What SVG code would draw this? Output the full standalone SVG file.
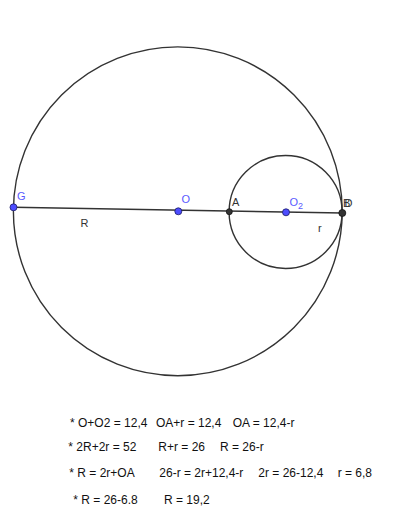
<svg xmlns="http://www.w3.org/2000/svg" width="400" height="523" viewBox="0 0 400 523">
<style>
.c{fill:none;stroke:#333;stroke-width:1.4}
.bp{fill:#4d4dff;stroke:#1a1a66;stroke-width:0.8}
.gp{fill:#333;stroke:#111;stroke-width:0.8}
.bl{font-family:"Liberation Sans",Arial,sans-serif;font-size:11px;fill:#5a5aff}
.kl{font-family:"Liberation Sans",Arial,sans-serif;font-size:11px;fill:#333}
.eq{font-family:"Liberation Sans",Arial,sans-serif;font-size:12px;fill:#111}
</style>
<rect width="400" height="523" fill="#fff"/>
<g id="connectors">
<circle id="bigCircle" class="c" cx="177.8" cy="211.3" r="164.4"/>
<circle id="smallCircle" class="c" cx="285.6" cy="212" r="56.5"/>
<line class="c" x1="13.5" y1="207.3" x2="342.3" y2="213"/>
</g>
<g id="G"><circle class="bp" cx="13.5" cy="207.3" r="3.5"/><text class="bl" x="17" y="200">G</text></g>
<g id="O"><circle class="bp" cx="178.3" cy="211.3" r="3.5"/><text class="bl" x="181.5" y="203">O</text></g>
<g id="A"><circle class="gp" cx="229.3" cy="211.7" r="3"/><text class="kl" x="232" y="206">A</text></g>
<g id="O2"><circle class="bp" cx="286" cy="212.3" r="3.5"/><text class="bl" x="289.5" y="206">O<tspan font-size="9" dy="3">2</tspan></text></g>
<g id="B"><circle class="gp" cx="342.3" cy="213" r="3.5"/><text class="kl" x="343" y="207">B<tspan dx="-5.8">D</tspan></text></g>
<g id="labels">
<text class="kl" x="80.5" y="227" font-size="12">R</text>
<text class="kl" x="318" y="231.5" font-size="12">r</text>
</g>
<g id="equations">
<text class="eq" y="426.7"><tspan x="70">* O+O2 = 12,4</tspan><tspan x="156">OA+r = 12,4</tspan><tspan x="232.7">OA = 12,4-r</tspan></text>
<text class="eq" y="451"><tspan x="68.3">* 2R+2r = 52</tspan><tspan x="158.3">R+r = 26</tspan><tspan x="220">R = 26-r</tspan></text>
<text class="eq" y="477.3"><tspan x="69.3">* R = 2r+OA</tspan><tspan x="159.3">26-r = 2r+12,4-r</tspan><tspan x="258.3">2r = 26-12,4</tspan><tspan x="337.7">r = 6,8</tspan></text>
<text class="eq" y="504.3"><tspan x="73.3">* R = 26-6.8</tspan><tspan x="164">R = 19,2</tspan></text>
</g>
</svg>
